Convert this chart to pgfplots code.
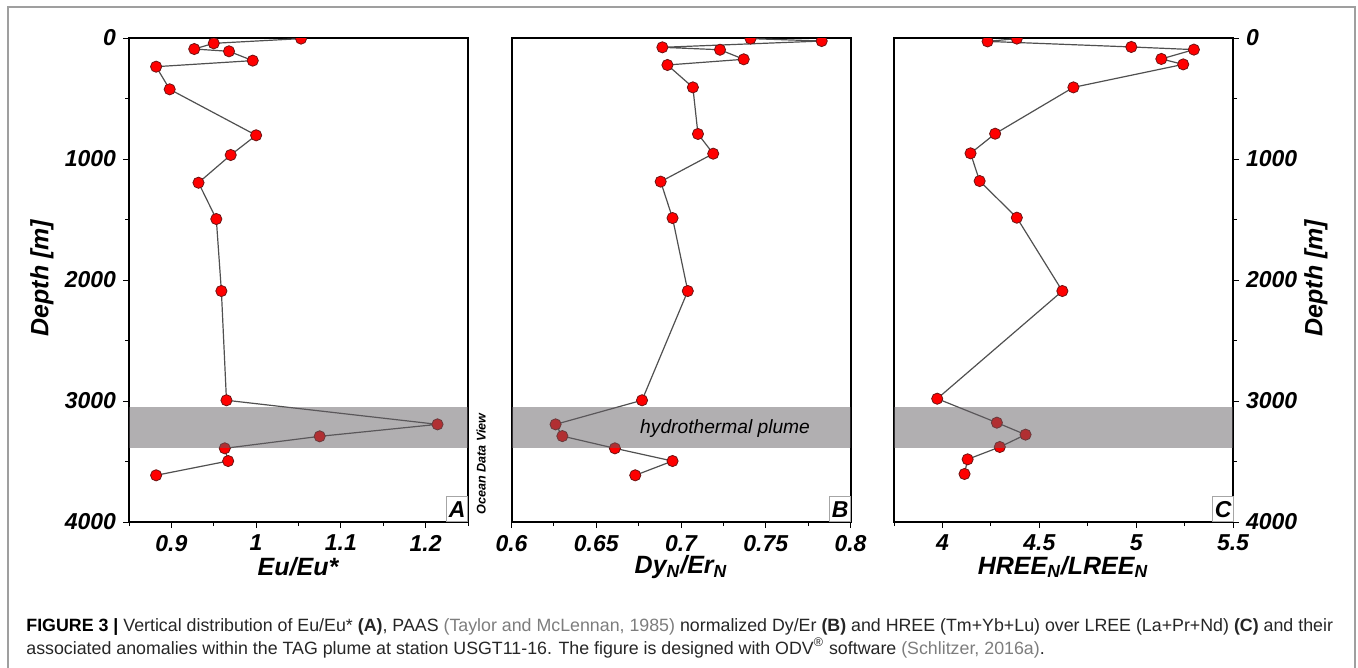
\documentclass[border=0pt]{standalone}
\usepackage{fontspec}
\setmainfont{Liberation Sans}
\usepackage{pgfplots}
\pgfplotsset{compat=1.18}
\usepackage{pgfplotstable}

\definecolor{bandc}{RGB}{100,95,100}
\definecolor{mkedge}{RGB}{110,20,20}
\definecolor{linec}{RGB}{80,80,80}
\definecolor{capgray}{RGB}{125,125,125}

% depth [m] and value
\pgfplotstableread{
d v
5 1.053
44 0.950
91 0.927
110 0.968
187 0.996
237 0.882
424 0.898
804 1.000
967 0.970
1196 0.932
1496 0.953
2091 0.959
2994 0.965
3193 1.214
3292 1.075
3391 0.963
3496 0.967
3614 0.882
}\dataA

\pgfplotstableread{
d v
5 0.741
25 0.783
77 0.689
97 0.723
176 0.737
223 0.692
408 0.707
793 0.710
956 0.719
1187 0.688
1488 0.695
2091 0.704
2994 0.677
3193 0.626
3290 0.630
3391 0.661
3496 0.695
3614 0.673
}\dataB

\pgfplotstableread{
d v
5 4.384
28 4.233
74 4.975
96 5.298
173 5.130
218 5.243
408 4.676
791 4.272
953 4.145
1182 4.192
1485 4.384
2091 4.619
2981 3.973
3179 4.281
3278 4.429
3380 4.296
3482 4.130
3603 4.114
}\dataC

\newcommand\pp{0.5pt}

\pgfplotsset{
  panel/.style={
    scale only axis, width=169.5pt, height=242pt, anchor=center,
    y dir=reverse, ymin=0, ymax=4000,
    ytick={0,1000,2000,3000,4000}, minor ytick={500,1500,2500,3500},
    xtick pos=bottom,
    tick align=outside, major tick length=3pt, minor tick length=2pt,
    axis line style={line width=1pt},
    every tick/.style={black, line width=0.5pt},
    tick label style={font=\fontsize{11.5}{13}\selectfont\bfseries\itshape},
    /pgf/number format/assume math mode=true,
    /pgf/number format/1000 sep={},
    scaled ticks=false,
    clip marker paths=true,
  },
  prof/.style={color=linec, line width=0.6pt, mark=*, mark size=2.8pt,
    mark options={fill=red, draw=mkedge, line width=0.4pt}},
}

\begin{document}
\begin{tikzpicture}
\path[use as bounding box] (0,0) rectangle (1358*\pp,-668*\pp);

% frame round the figure
\draw[gray!75, line width=0.6pt] (8*\pp,-668*\pp) -- (8*\pp,-7*\pp) -- (1355*\pp,-7*\pp) -- (1355*\pp,-668*\pp);

% panel A
\begin{axis}[panel, at={(298.5*\pp,-280*\pp)},
  xmin=0.85, xmax=1.25, xtick={0.9,1,1.1,1.2}, minor xtick={0.85,0.95,1.05,1.15,1.25},
  ytick pos=left]
  \addplot[prof] table[x=v, y=d] {\dataA};
  \fill[bandc, opacity=0.5] (axis cs:0.85,3050) rectangle (axis cs:1.25,3390);
\end{axis}

% panel B
\begin{axis}[panel, at={(681*\pp,-280*\pp)},
  xmin=0.6, xmax=0.8, xtick={0.6,0.65,0.7,0.75,0.8}, minor xtick={0.625,0.675,0.725,0.775},
  ytick=\empty, minor ytick=\empty]
  \addplot[prof] table[x=v, y=d] {\dataB};
  \fill[bandc, opacity=0.5] (axis cs:0.6,3050) rectangle (axis cs:0.8,3390);
  \node[font=\fontsize{9.6}{11}\selectfont\itshape] at (axis cs:0.726,3225) {hydrothermal plume};
\end{axis}

% panel C
\begin{axis}[panel, at={(1063.5*\pp,-280*\pp)},
  xmin=3.75, xmax=5.5, xtick={4,4.5,5,5.5}, minor xtick={3.75,4.25,4.75,5.25},
  ytick pos=right, yticklabel pos=right]
  \addplot[prof] table[x=v, y=d] {\dataC};
  \fill[bandc, opacity=0.5] (axis cs:3.75,3050) rectangle (axis cs:5.5,3390);
\end{axis}

% panel letters
\foreach \xr/\lt in {468/A, 851/B, 1234/C}
  \node[draw=gray!70, fill=white, line width=0.4pt, anchor=south east, inner sep=0pt,
        minimum width=21*\pp, minimum height=25*\pp,
        font=\fontsize{11.5}{13}\selectfont\bfseries\itshape] at (\xr*\pp,-522*\pp) {\lt};

% axis titles
\begin{scope}[every node/.style={font=\fontsize{12.5}{14}\selectfont\bfseries\itshape}]
  \node at (298*\pp,-567*\pp) {Eu/Eu*};
  \node at (681*\pp,-567*\pp) {Dy\textsubscript{N}/Er\textsubscript{N}};
  \node at (1063*\pp,-567*\pp) {HREE\textsubscript{N}/LREE\textsubscript{N}};
  \node[rotate=90] at (42*\pp,-278*\pp) {Depth [m]};
  \node[rotate=90] at (1316*\pp,-278*\pp) {Depth [m]};
\end{scope}
\node[rotate=90, font=\fontsize{6.3}{7}\selectfont\bfseries\itshape] at (481*\pp,-464*\pp) {Ocean Data View};

% caption
\begin{scope}[every node/.style={anchor=base west, inner sep=0pt, text=black!85,
    font=\fontsize{8.9}{11}\selectfont}]
  \node at (26*\pp,-631*\pp) {\textbf{\color{black}FIGURE 3 |} Vertical distribution of Eu/Eu* \textbf{(A)}, PAAS {\color{capgray}(Taylor and McLennan, 1985)} normalized Dy/Er \textbf{(B)} and HREE (Tm+Yb+Lu) over LREE (La+Pr+Nd) \textbf{(C)} and their};
  \node at (26*\pp,-654*\pp) {associated anomalies within the TAG plume at station USGT11-16. The figure is designed with ODV\textsuperscript{®} software {\color{capgray}(Schlitzer, 2016a)}.};
\end{scope}
\end{tikzpicture}
\end{document}
